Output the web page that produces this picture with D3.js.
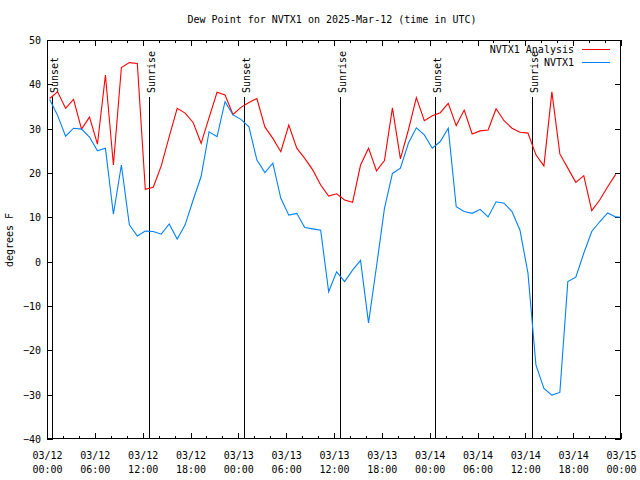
<!DOCTYPE html>
<html>
<head>
<meta charset="utf-8">
<script src="https://cdn.jsdelivr.net/npm/d3@7"></script>
<style>
  body { margin: 0; background: #fff; }
  svg { display: block; }
  text { font-family: "DejaVu Sans Mono", monospace; font-size: 10px; fill: #000; }
</style>
</head>
<body>
<svg id="chart" width="640" height="480"></svg>
<script>
// ---- Data (hourly, first sample at ~00:20 UTC on 03/12) ----
const firstSampleHour = 0.33;
const analysisValues = [36.8,38.3,34.6,36.6,29.9,32.6,26.5,42.1,21.8,43.8,44.9,44.7,
  16.3,16.8,21.6,28.2,34.6,33.5,31.4,26.7,32.5,38.2,37.6,33.2,
  34.8,35.9,36.8,30.4,27.8,24.8,30.8,25.6,23.3,20.7,17.3,14.8,
  15.3,13.9,13.4,21.8,25.6,20.5,22.8,34.7,23.2,29.7,37.0,31.8,
  32.9,33.6,35.7,30.7,34.2,28.8,29.5,29.7,34.5,31.8,30.1,29.2,
  29.0,24.1,21.6,38.3,24.3,21.1,17.9,19.4,11.5,13.9,16.9,19.7];
const observedValues = [36.6,33.0,28.3,30.1,29.9,28.1,25.0,25.6,10.7,21.8,8.3,5.8,
  6.9,6.8,6.2,8.5,5.1,8.3,13.9,19.2,29.3,28.2,36.1,33.1,
  32.1,30.4,22.9,20.1,22.2,14.3,10.5,10.9,7.7,7.4,7.1,-6.8,
  -2.3,-4.5,-1.9,0.3,-13.8,-1.1,12.0,19.9,21.1,26.7,30.2,28.6,
  25.6,27.1,30.1,12.4,11.3,10.9,11.8,10.1,13.5,13.2,11.3,7.1,
  -2.6,-23.3,-28.6,-30.1,-29.5,-4.5,-3.5,1.9,6.8,9.0,11.0,10.1,10.0];
const seriesNames = ["NVTX1 Analysis", "NVTX1"];
const seriesColors = ["#ff0000", "#0080ff"];

// sun events: hours since 03/12 00:00 UTC
const sunEventHours = [0.67, 12.82, 24.72, 36.8, 48.68, 60.85];
const sunEventLabels = ["Sunset", "Sunrise", "Sunset", "Sunrise", "Sunset", "Sunrise"];

const xTickHours = [0, 6, 12, 18, 24, 30, 36, 42, 48, 54, 60, 66, 72];
const xTickDates = ["03/12","03/12","03/12","03/12","03/13","03/13","03/13","03/13","03/14","03/14","03/14","03/14","03/15"];
const xTickTimes = ["00:00","06:00","12:00","18:00","00:00","06:00","12:00","18:00","00:00","06:00","12:00","18:00","00:00"];
const yTicks = [-40, -30, -20, -10, 0, 10, 20, 30, 40, 50];

const title = "Dew Point for NVTX1 on 2025-Mar-12 (time in UTC)";
const yLabel = "degrees F";

// ---- Layout ----
const L = 47, R = 621, T = 40, B = 439;
const svg = d3.select("#chart");
const x = d3.scaleLinear().domain([0, 72]).range([L, R]);
const y = d3.scaleLinear().domain([-40, 50]).range([B, T]);

svg.append("rect").attr("width", 640).attr("height", 480).attr("fill", "#fff");

svg.append("defs").append("clipPath").attr("id", "clip")
  .append("rect").attr("x", L).attr("y", T).attr("width", R - L).attr("height", B - T);

// Title
svg.append("text").attr("x", 332).attr("y", 23).attr("text-anchor", "middle").text(title);
// Y label
svg.append("text").attr("transform", "translate(13,240) rotate(-90)")
  .attr("text-anchor", "middle").text(yLabel);

// Axes
const minorHours = d3.range(0, 73, 2).filter(h => h % 6 !== 0);
const axG = svg.append("g").attr("shape-rendering", "crispEdges");

// bottom axis (major)
const xb = axG.append("g").attr("transform", `translate(0,${B})`)
  .call(d3.axisBottom(x).tickValues(xTickHours).tickSizeInner(-6).tickSizeOuter(0).tickFormat(""));
xb.select(".domain").remove();
xb.selectAll(".tick text").remove();
xb.selectAll(".tick").each(function(d, i) {
  const g = d3.select(this);
  g.append("text").attr("x", 0).attr("y", 20).attr("text-anchor", "middle").text(xTickDates[i]);
  g.append("text").attr("x", 0).attr("y", 34).attr("text-anchor", "middle").text(xTickTimes[i]);
});
// bottom minor
axG.append("g").attr("transform", `translate(0,${B})`)
  .call(d3.axisBottom(x).tickValues(minorHours).tickSizeInner(-3).tickSizeOuter(0).tickFormat(""))
  .select(".domain").remove();
// top major/minor
axG.append("g").attr("transform", `translate(0,${T})`)
  .call(d3.axisTop(x).tickValues(xTickHours).tickSizeInner(-6).tickSizeOuter(0).tickFormat(""))
  .select(".domain").remove();
axG.append("g").attr("transform", `translate(0,${T})`)
  .call(d3.axisTop(x).tickValues(minorHours).tickSizeInner(-3).tickSizeOuter(0).tickFormat(""))
  .select(".domain").remove();
// left
const yl = axG.append("g").attr("transform", `translate(${L},0)`)
  .call(d3.axisLeft(y).tickValues(yTicks).tickSizeInner(-6).tickSizeOuter(0).tickPadding(12));
yl.select(".domain").remove();
yl.selectAll(".tick text").attr("dy", "0.35em").attr("x", -6);
// right
axG.append("g").attr("transform", `translate(${R},0)`)
  .call(d3.axisRight(y).tickValues(yTicks).tickSizeInner(-6).tickSizeOuter(0).tickFormat(""))
  .select(".domain").remove();
axG.selectAll(".tick line").attr("stroke", "#000");
axG.selectAll("text").attr("font-family", "DejaVu Sans Mono").attr("font-size", 10).attr("fill", "#000");

// Sun event lines
const sunG = svg.append("g");
sunEventHours.forEach((h, i) => {
  const px = Math.round(x(h)) + 0.5;
  sunG.append("line").attr("x1", px).attr("x2", px).attr("y1", 97).attr("y2", B)
    .attr("stroke", "#000").attr("stroke-width", 1);
  sunG.append("text").attr("transform", `translate(${px + 5},93) rotate(-90)`)
    .attr("text-anchor", "start").text(sunEventLabels[i]);
});

// Series
const line = d3.line().x((d, i) => x(firstSampleHour + i)).y(d => y(d));
const dataG = svg.append("g").attr("clip-path", "url(#clip)");
[analysisValues, observedValues].forEach((vals, s) => {
  dataG.append("path").datum(vals).attr("d", line)
    .attr("fill", "none").attr("stroke", seriesColors[s]).attr("stroke-width", 1.1);
});

// Frame
svg.append("rect").attr("x", L + 0.5).attr("y", T + 0.5).attr("width", R - L - 1).attr("height", B - T - 1)
  .attr("fill", "none").attr("stroke", "#000").attr("shape-rendering", "crispEdges");

// Legend
const legG = svg.append("g");
seriesNames.forEach((name, i) => {
  const ly = 49 + i * 13;
  legG.append("text").attr("x", 574).attr("y", ly).attr("dy", "0.35em")
    .attr("text-anchor", "end").text(name);
  legG.append("line").attr("x1", 582).attr("x2", 610).attr("y1", ly + 0.5).attr("y2", ly + 0.5)
    .attr("stroke", seriesColors[i]).attr("stroke-width", 1);
});
</script>
</body>
</html>
